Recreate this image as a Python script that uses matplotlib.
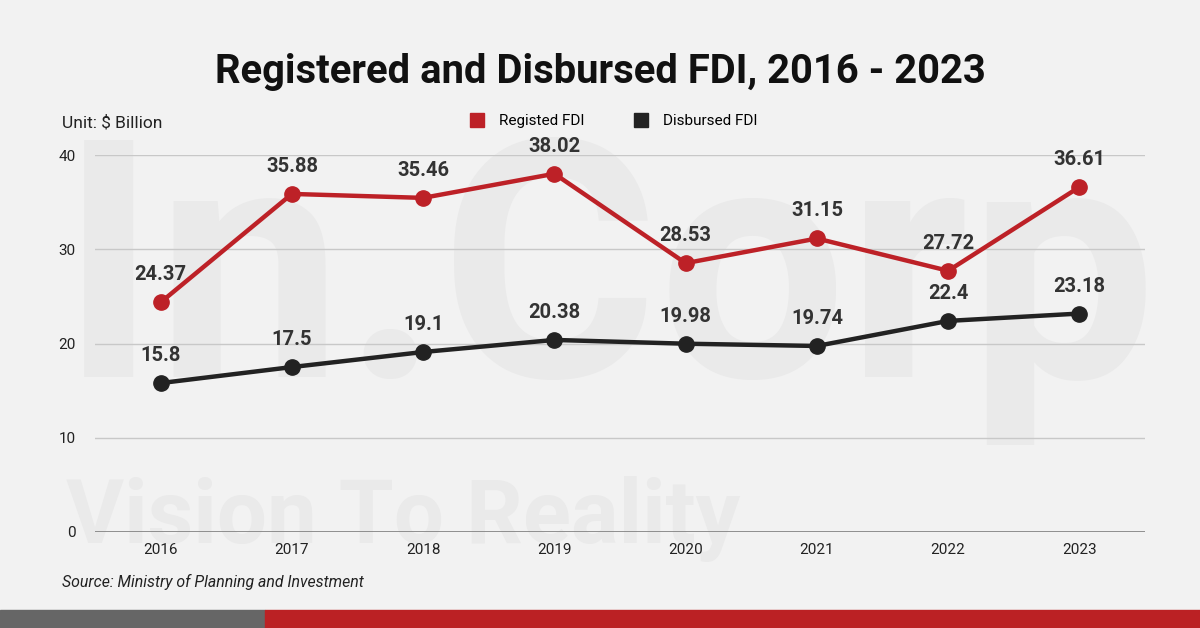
import matplotlib
matplotlib.use("Agg")
import matplotlib.pyplot as plt
from matplotlib.lines import Line2D
from matplotlib.patches import Rectangle

plt.rcParams['font.family'] = ['Roboto', 'DejaVu Sans']

years = ['2016', '2017', '2018', '2019', '2020', '2021', '2022', '2023']
registered = [24.37, 35.88, 35.46, 38.02, 28.53, 31.15, 27.72, 36.61]
disbursed = [15.8, 17.5, 19.1, 20.38, 19.98, 19.74, 22.4, 23.18]
yticks = [0, 10, 20, 30, 40]

red = '#BD2127'
black = '#222222'
bg = '#F2F2F2'

fig = plt.figure(figsize=(12, 6.28), dpi=100)
fig.patch.set_facecolor(bg)

# faint watermark, kept behind the axes
fig.text(0.05, 0.40, 'In.Corp', fontsize=240, fontweight='bold', color='#EAEAEA', zorder=-5)
fig.text(0.055, 0.135, 'Vision To Reality', fontsize=64, fontweight='bold', color='#EAEAEA', zorder=-5)

ax = fig.add_axes([0.0792, 0.153, 0.875, 0.600])
ax.set_facecolor('none')
x = list(range(len(years)))

ax.plot(x, registered, color=red, lw=3.2, marker='o', ms=11, zorder=3)
ax.plot(x, disbursed, color=black, lw=3.2, marker='o', ms=11, zorder=3)

for xi, v in zip(x, registered):
    ax.annotate(f'{v:g}', (xi, v), xytext=(0, 13), textcoords='offset points',
                ha='center', va='bottom', fontsize=14.5, fontweight='bold', color='#333333')
for xi, v in zip(x, disbursed):
    ax.annotate(f'{v:g}', (xi, v), xytext=(0, 13), textcoords='offset points',
                ha='center', va='bottom', fontsize=14.5, fontweight='bold', color='#333333')

ax.set_xlim(-0.5, len(years) - 0.5)
ax.set_ylim(0, 40)
ax.set_yticks(yticks)
ax.set_xticks(x)
ax.set_xticklabels(years)
ax.tick_params(axis='both', length=0, labelsize=11, colors='#222222')
ax.tick_params(axis='y', pad=14)
ax.tick_params(axis='x', pad=8)
for s in ax.spines.values():
    s.set_visible(False)
ax.grid(axis='y', color='#C8C8C8', lw=1.0)
ax.axhline(0, color='#888888', lw=1.3)
ax.set_axisbelow(True)

fig.text(0.5, 0.886, 'Registered and Disbursed FDI, 2016 - 2023', ha='center', va='center',
         fontsize=28.8, fontweight='bold', color='#111111')
fig.text(0.052, 0.805, 'Unit: $ Billion', ha='left', va='center', fontsize=12.5, color='#222222')
fig.text(0.052, 0.073, 'Source: Ministry of Planning and Investment', ha='left', va='center',
         fontsize=11.4, style='italic', color='#222222')

handles = [Line2D([], [], ls='none', marker='s', ms=10, color=red),
           Line2D([], [], ls='none', marker='s', ms=10, color=black)]
fig.legend(handles, ['Registed FDI', 'Disbursed FDI'], loc='center', bbox_to_anchor=(0.508, 0.807),
           ncol=2, frameon=False, fontsize=11, handletextpad=0.4, columnspacing=2.75)

# bottom stripe
fig.add_artist(Rectangle((0, 0), 0.221, 0.029, transform=fig.transFigure, color='#666666'))
fig.add_artist(Rectangle((0.221, 0), 0.779, 0.029, transform=fig.transFigure, color='#BB2124'))

fig.savefig('out.png', dpi=100, facecolor=bg)
